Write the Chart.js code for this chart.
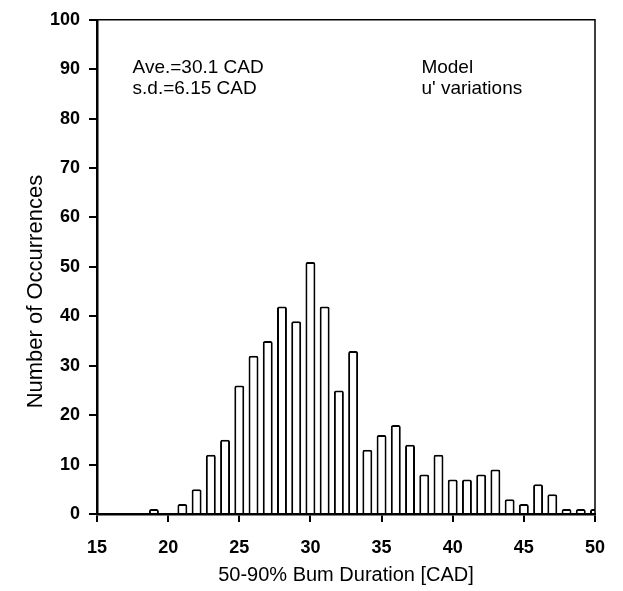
<!DOCTYPE html>
<html>
<head>
<meta charset="utf-8">
<script src="https://cdn.jsdelivr.net/npm/chart.js@4/dist/chart.umd.min.js"></script>
<style>
  html, body { margin: 0; padding: 0; background: #fff; }
  #wrap { width: 623px; height: 591px; }
</style>
</head>
<body>
<div id="wrap"><canvas id="myChart" width="623" height="591"></canvas></div>
<script>
// burn duration bins (CAD) and how many cycles fell in each
var durations = [19, 20, 21, 22, 23, 24, 25, 26, 27, 28, 29, 30, 31, 32, 33, 34,
                 35, 36, 37, 38, 39, 40, 41, 42, 43, 44, 45, 46, 47, 48, 49, 50];
var counts    = [1, 0, 2, 5, 12, 15, 26, 32, 35, 42, 39, 51, 42, 25, 33, 13,
                 16, 18, 14, 8, 12, 7, 7, 8, 9, 3, 2, 6, 4, 1, 1, 1];

var xTicks = [15, 20, 25, 30, 35, 40, 45, 50];
var yTicks = [0, 10, 20, 30, 40, 50, 60, 70, 80, 90, 100];

var notes = [
    { x: 17.5, y: 89.2, text: 'Ave.=30.1 CAD' },
    { x: 17.5, y: 85.0, text: 's.d.=6.15 CAD' },
    { x: 37.8, y: 89.2, text: 'Model' },
    { x: 37.8, y: 85.0, text: "u' variations" }
];
var yTitle = 'Number of Occurrences';

var FONT = '"Liberation Sans", Arial, Helvetica, sans-serif';

//Frame round the plot, notes and the y title
var framePlugin = {
    id: 'frame',
    afterDatasetsDraw: function(chart){
        var ctx = chart.ctx, a = chart.chartArea;
        ctx.save();
        ctx.strokeStyle = '#000';
        ctx.lineWidth = 1.5;
        ctx.beginPath();
        ctx.moveTo(a.left, a.top);
        ctx.lineTo(a.right, a.top);
        ctx.lineTo(a.right, a.bottom);
        ctx.stroke();

        ctx.fillStyle = '#000';
        ctx.font = '19px ' + FONT;
        ctx.textBaseline = 'alphabetic';
        ctx.textAlign = 'left';
        notes.forEach(function(n){
            ctx.fillText(n.text, chart.scales.x.getPixelForValue(n.x), chart.scales.y.getPixelForValue(n.y));
        });

        // y title, a bit below the middle like in the original
        ctx.translate(36, chart.scales.y.getPixelForValue(45));
        ctx.rotate(-Math.PI / 2);
        ctx.font = '22px ' + FONT;
        ctx.textAlign = 'center';
        ctx.textBaseline = 'middle';
        ctx.fillText(yTitle, 0, 0);
        ctx.restore();
    }
};

var ctx = document.getElementById('myChart');
var histChart = new Chart(ctx, {
    type: 'bar',
    data: {
        datasets: [{
            data: durations.map(function(d, i){ return { x: d, y: counts[i] }; }),
            backgroundColor: '#fff',
            borderColor: '#000',
            borderWidth: 2,
            borderRadius: 2,
            barPercentage: 0.7,
            categoryPercentage: 1
        }]
    },
    options: {
        responsive: false,
        animation: false,
        devicePixelRatio: 1,
        layout: { padding: { left: 0, right: 28, top: 17, bottom: 0 } },
        plugins: { legend: { display: false }, tooltip: { enabled: false } },
        scales: {
            x: {
                type: 'linear',
                min: 15,
                max: 50,
                offset: false,
                afterFit: function(s){ s.height = 77; },
                afterBuildTicks: function(s){ s.ticks = xTicks.map(function(v){ return { value: v }; }); },
                grid: { display: true, drawOnChartArea: false, drawTicks: true, tickLength: 8, color: '#000', lineWidth: 2, offset: false },
                border: { display: true, color: '#000', width: 2.5 },
                ticks: { color: '#000', padding: 15, maxRotation: 0, font: { family: FONT, size: 18, weight: 'bold' } },
                title: { display: true, text: '50-90% Bum Duration [CAD]', color: '#000', padding: { top: 0, bottom: 4 }, font: { family: FONT, size: 20 } }
            },
            y: {
                min: 0,
                max: 100,
                afterFit: function(s){ s.width = 97; },
                afterBuildTicks: function(s){ s.ticks = yTicks.map(function(v){ return { value: v }; }); },
                grid: { display: true, drawOnChartArea: false, drawTicks: true, tickLength: 8, color: '#000', lineWidth: 2 },
                border: { display: true, color: '#000', width: 2.5 },
                ticks: { color: '#000', padding: 9, font: { family: FONT, size: 18, weight: 'bold' } },
                title: { display: false }
            }
        }
    },
    plugins: [framePlugin]
});
</script>
</body>
</html>
